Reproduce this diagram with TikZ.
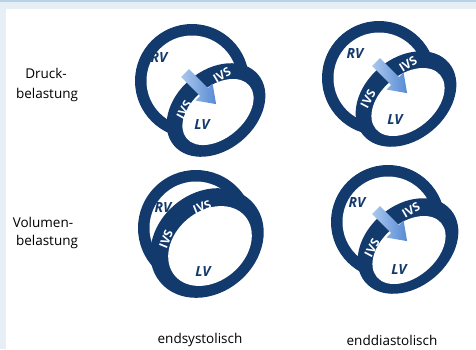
\documentclass[tikz,border=0pt]{standalone}
\usepackage{fontspec}
\setmainfont{Open Sans}
\begin{document}
\definecolor{navy}{RGB}{19,58,108}
\definecolor{framebar}{RGB}{185,209,229}
\definecolor{framefill}{RGB}{230,238,246}
\definecolor{arrowlight}{RGB}{170,200,238}
\definecolor{arrowdark}{RGB}{88,138,212}
\begin{tikzpicture}[x=1bp,y=-1bp,
  wall/.style={fill=navy},
  cavity/.style={fill=white},
  chamber/.style={text=navy,inner sep=0pt,font=\fontsize{14bp}{16bp}\selectfont\bfseries\itshape},
  septum/.style={text=white,inner sep=0pt,font=\fontsize{12bp}{14bp}\selectfont\bfseries},
  rowlabel/.style={text=black,inner sep=0pt,font=\fontsize{13.5bp}{16bp}\selectfont},
  loadarrow/.style={left color=arrowlight,right color=arrowdark}]
\useasboundingbox (0,0) rectangle (476,349);

% page frame
\fill[white] (0,0) rectangle (476,349);
\fill[framefill] (0,0) rectangle (476,9);
\fill[framefill] (0,0) rectangle (6,349);
\fill[framebar] (0,0) rectangle (476,2);

% arrow outline: tail at origin, pointing along +x
\newcommand\loadarrowpath{(0,-5.5) -- (27,-5.5) -- (27,-12) -- (44,0) -- (27,12) -- (27,5.5) -- (0,5.5) -- cycle}

% ---- pressure load, end-systolic ----
\fill[wall] (192,81) circle (57);
\fill[cavity] (192,81) circle (45.5);
\fill[wall,rotate around={40:(216,110)}] (216,110) ellipse [x radius=55,y radius=40];
\fill[cavity,rotate around={40:(218,112)}] (218,112) ellipse [x radius=41,y radius=26];
\begin{scope}[shift={(185,73)},rotate=-45]
  \shade[loadarrow] \loadarrowpath;
\end{scope}
\node[chamber] (rv1) at (159,57) {RV};
\node[chamber] (lv1) at (202,124) {LV};
\node[septum,rotate=31] (ivsa1) at (222,75) {IVS};
\node[septum,rotate=61] (ivsb1) at (184,110) {IVS};

% ---- pressure load, end-diastolic ----
\fill[wall] (379,78) circle (57);
\fill[cavity] (379,78) circle (45.5);
\fill[wall,rotate around={40:(406,99)}] (406,99) ellipse [x radius=56,y radius=41];
\fill[cavity,rotate around={40:(408,102)}] (408,102) ellipse [x radius=42,y radius=27];
\begin{scope}[shift={(376,62)},rotate=-45]
  \shade[loadarrow] \loadarrowpath;
\end{scope}
\node[chamber] (rv2) at (355,53) {RV};
\node[chamber] (lv2) at (395,119) {LV};
\node[septum,rotate=33] (ivsa2) at (408,64) {IVS};
\node[septum,rotate=62] (ivsb2) at (368,99) {IVS};

% ---- volume load, end-systolic ----
\fill[wall] (196,228) circle (58);
\fill[cavity] (196,228) circle (46.5);
\fill[wall,rotate around={40:(207,243)}] (207,243) ellipse [x radius=61,y radius=50];
\fill[cavity,rotate around={40:(210,246)}] (210,246) ellipse [x radius=46,y radius=35];
\node[chamber] (rv3) at (163,207) {RV};
\node[chamber] (lv3) at (203,271) {LV};
\node[septum,rotate=22] (ivsa3) at (202,207) {IVS};
\node[septum,rotate=68] (ivsb3) at (166,239) {IVS};

% ---- volume load, end-diastolic ----
\fill[wall] (388,222) circle (57);
\fill[cavity] (388,222) circle (45.5);
\fill[wall,rotate around={40:(408,246)}] (408,246) ellipse [x radius=56,y radius=41];
\fill[cavity,rotate around={40:(409,250)}] (409,250) ellipse [x radius=42,y radius=27];
\begin{scope}[shift={(376,210)},rotate=-45]
  \shade[loadarrow] \loadarrowpath;
\end{scope}
\node[chamber] (rv4) at (357,202) {RV};
\node[chamber] (lv4) at (399,269) {LV};
\node[septum,rotate=30] (ivsa4) at (411,210) {IVS};
\node[septum,rotate=62] (ivsb4) at (372,248) {IVS};

% ---- row and column labels ----
\node[rowlabel] (druck) at (46,73) {Druck-};
\node[rowlabel] (druckb) at (47,95) {belastung};
\node[rowlabel] (vol) at (43,222) {Volumen-};
\node[rowlabel] (volb) at (47,242) {belastung};
\node[rowlabel] (esys) at (200,340) {endsystolisch};
\node[rowlabel] (edia) at (392,340) {enddiastolisch};
\end{tikzpicture}
\end{document}
